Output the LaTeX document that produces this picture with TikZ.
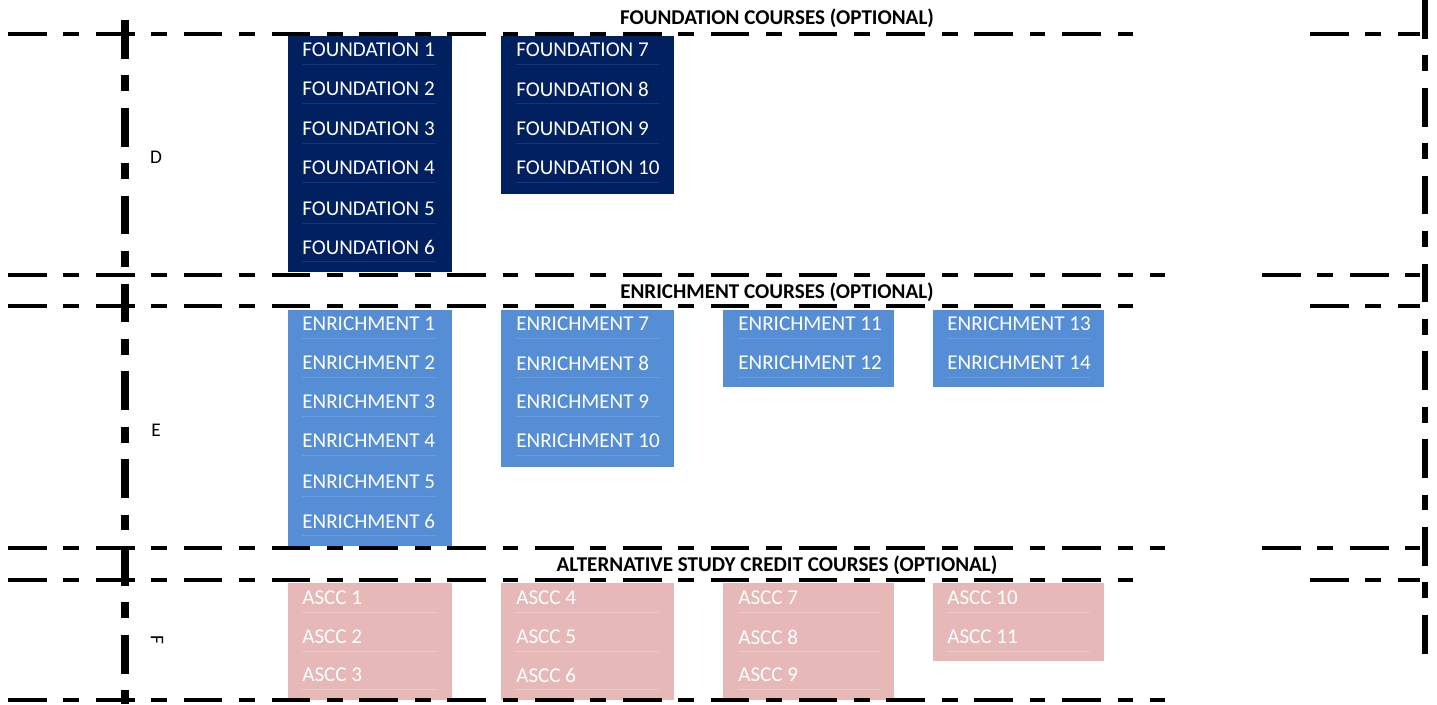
\documentclass[tikz,border=0pt]{standalone}
\usepackage{fontspec}
\setmainfont{Carlito}
\usepackage{tikz}
\usetikzlibrary{positioning}

\definecolor{fnavy}{RGB}{0,32,96}
\definecolor{fnavyline}{RGB}{26,52,112}
\definecolor{eblue}{RGB}{85,142,213}
\definecolor{ebLine}{RGB}{108,156,220}
\definecolor{apink}{RGB}{230,185,184}
\definecolor{apLine}{RGB}{237,202,201}

\tikzset{
  sepline/.style={line width=2.6pt, dash pattern=on 22pt off 9.5pt on 9pt off 9.5pt},
  sidevline/.style={line width=4pt, dash pattern=on 22pt off 9.5pt on 9pt off 9.5pt},
  head/.style={font=\bfseries\fontsize{12}{14}\selectfont, inner sep=0pt},
  rowlabel/.style={font=\fontsize{11}{13}\selectfont, inner sep=0pt},
  item/.style 2 args={anchor=west, text=white, font=\fontsize{12}{14}\selectfont, inner sep=0pt,
    append after command={(\tikzlastnode.west) ++(0,14) edge[draw=#1, line width=0.4pt] ++(#2,0)}}
}

\begin{document}
\begin{tikzpicture}[line cap=butt,line join=miter,x=0.02cm,y=-0.02cm]
\useasboundingbox (0,0) rectangle (1437,704);
% headings
\node[head] (fhead) at (777,18) {FOUNDATION COURSES (OPTIONAL)};
\node[head] (ehead) at (777,292) {ENRICHMENT COURSES (OPTIONAL)};
\node[head] (ahead) at (777,565) {ALTERNATIVE STUDY CREDIT COURSES (OPTIONAL)};
\node[rowlabel] (rowD) at (156,157) {D};
\node[rowlabel] (rowE) at (156,430) {E};
\node[rowlabel, rotate=-90] (rowF) at (157,640) {F};
% foundation
\fill[fnavy] (288,36) rectangle (452,272);
\fill[fnavy] (501,36) rectangle (674,194);
\node[item={fnavyline}{134}] (f1) at (302,50) {FOUNDATION 1};
\node[item={fnavyline}{134}] (f2) at (302,89) {FOUNDATION 2};
\node[item={fnavyline}{134}] (f3) at (302,129) {FOUNDATION 3};
\node[item={fnavyline}{134}] (f4) at (302,168) {FOUNDATION 4};
\node[item={fnavyline}{134}] (f5) at (302,209) {FOUNDATION 5};
\node[item={fnavyline}{134}] (f6) at (302,247) {FOUNDATION 6};
\node[item={fnavyline}{143}] (f7) at (516,50) {FOUNDATION 7};
\node[item={fnavyline}{143}] (f8) at (516,89) {FOUNDATION 8};
\node[item={fnavyline}{143}] (f9) at (516,129) {FOUNDATION 9};
\node[item={fnavyline}{143}] (f10) at (516,168) {FOUNDATION 10};
% enrichment
\fill[eblue] (288,310) rectangle (452,546);
\fill[eblue] (501,310) rectangle (674,467);
\fill[eblue] (723,310) rectangle (894,387);
\fill[eblue] (933,310) rectangle (1104,387);
\node[item={ebLine}{134}] (e1) at (302,324) {ENRICHMENT 1};
\node[item={ebLine}{134}] (e2) at (302,363) {ENRICHMENT 2};
\node[item={ebLine}{134}] (e3) at (302,402) {ENRICHMENT 3};
\node[item={ebLine}{134}] (e4) at (302,441) {ENRICHMENT 4};
\node[item={ebLine}{134}] (e5) at (302,482) {ENRICHMENT 5};
\node[item={ebLine}{134}] (e6) at (302,521) {ENRICHMENT 6};
\node[item={ebLine}{143}] (e7) at (516,324) {ENRICHMENT 7};
\node[item={ebLine}{143}] (e8) at (516,363) {ENRICHMENT 8};
\node[item={ebLine}{143}] (e9) at (516,402) {ENRICHMENT 9};
\node[item={ebLine}{143}] (e10) at (516,441) {ENRICHMENT 10};
\node[item={ebLine}{143}] (e11) at (738,324) {ENRICHMENT 11};
\node[item={ebLine}{143}] (e12) at (738,363) {ENRICHMENT 12};
\node[item={ebLine}{143}] (e13) at (947,324) {ENRICHMENT 13};
\node[item={ebLine}{143}] (e14) at (947,363) {ENRICHMENT 14};
% alternative study credit
\fill[apink] (288,583) rectangle (452,700);
\fill[apink] (501,583) rectangle (674,700);
\fill[apink] (723,583) rectangle (894,700);
\fill[apink] (933,583) rectangle (1104,661);
\node[item={apLine}{134}] (a1) at (302,598) {ASCC 1};
\node[item={apLine}{134}] (a2) at (302,637) {ASCC 2};
\node[item={apLine}{134}] (a3) at (302,675) {ASCC 3};
\node[item={apLine}{143}] (a4) at (516,598) {ASCC 4};
\node[item={apLine}{143}] (a5) at (516,637) {ASCC 5};
\node[item={apLine}{143}] (a6) at (516,675) {ASCC 6};
\node[item={apLine}{143}] (a7) at (738,598) {ASCC 7};
\node[item={apLine}{143}] (a8) at (738,637) {ASCC 8};
\node[item={apLine}{143}] (a9) at (738,675) {ASCC 9};
\node[item={apLine}{143}] (a10) at (947,598) {ASCC 10};
\node[item={apLine}{143}] (a11) at (947,637) {ASCC 11};
% dashed frame
\draw [sepline] (8,34) -- (1150,34);
\draw [sepline] (1310,34) -- (1420,34);
\draw [sepline] (8,275) -- (1165,275);
\draw [sepline] (1262,275) -- (1420,275);
\draw [sepline] (8,306) -- (1150,306);
\draw [sepline] (1310,306) -- (1420,306);
\draw [sepline] (8,548) -- (1165,548);
\draw [sepline] (1262,548) -- (1420,548);
\draw [sepline] (8,580) -- (1150,580);
\draw [sepline] (1310,580) -- (1420,580);
\draw [sepline] (8,700) -- (1165,700);
\draw [sidevline] (125,20) -- (125,704);
\draw [sepline, line width=3pt] (1425,0) -- (1425,665);
\end{tikzpicture}
\end{document}
